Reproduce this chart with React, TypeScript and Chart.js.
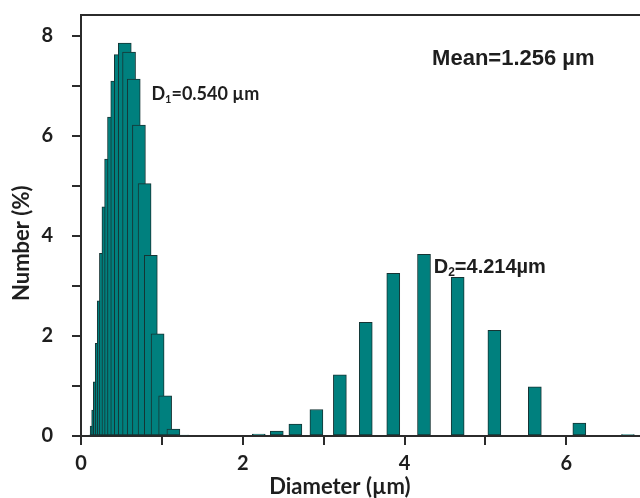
import React, { useEffect, useRef } from "react";
import { Chart, registerables } from "chart.js";

Chart.register(...registerables);

// Bin centres (µm) (log-spaced bins)
const diameters = [
  0.176, 0.193, 0.212, 0.233, 0.256, 0.281, 0.308, 0.339, 0.372, 0.408, 0.448,
  0.492, 0.541, 0.594, 0.652, 0.716, 0.786, 0.863, 0.947, 1.04, 1.142, 1.254,
  2.197, 2.42, 2.65, 2.91, 3.2, 3.52, 3.86, 4.24, 4.656, 5.11, 5.61, 6.16, 6.76,
];
// Number (%) for each bin
const numbers = [
  0.02, 0.2, 0.52, 1.08, 1.85, 2.7, 3.65, 4.58, 5.53, 6.37, 7.09,
  7.62, 7.85, 7.67, 7.13, 6.21, 5.04, 3.61, 2.04, 0.8, 0.14, 0.02,
  0.04, 0.1, 0.24, 0.53, 1.22, 2.27, 3.25, 3.63, 3.17, 2.11, 0.98, 0.26, 0.03,
];
const xTickLabels = ["0", "", "2", "", "4", "", "6"];
const yTickLabels = ["0", "", "2", "", "4", "", "6", "", "8"];
const xTitle = "Diameter (µm)";
const yTitle = "Number (%)";
const meanText = "Mean=1.256 µm";
const d1Text = { main: "D", sub: "1", rest: "=0.540 µm", x: 0.87, y: 6.82 };
const d2Text = { main: "D", sub: "2", rest: "=4.214µm", x: 4.36, y: 3.37 };
const meanPos = { x: 4.34, y: 7.53 };
const xTitlePos = 3.2; // centre of x-axis title, in µm
const yTitlePos = 3.85; // centre of y-axis title, in %

const TEAL = "#00807e";
const EDGE = "#163434";
const AXIS = "#2b2b2b";
const INK = "#1e1e1e";
const CAL = "Lato, 'Open Sans', sans-serif";
const ARIAL = "'Liberation Sans', Arial, sans-serif";

export default function App() {
  const ref = useRef<HTMLCanvasElement | null>(null);

  useEffect(() => {
    const canvas = ref.current;
    if (!canvas) return;

    const textPlugin = {
      id: "annot",
      afterDraw(chart: any) {
        const { ctx, chartArea, scales } = chart;
        ctx.save();
        // top frame line
        ctx.strokeStyle = AXIS;
        ctx.lineWidth = 2;
        ctx.beginPath();
        ctx.moveTo(chartArea.left - 1, chartArea.top);
        ctx.lineTo(chart.width, chartArea.top);
        ctx.stroke();

        ctx.fillStyle = INK;
        ctx.textBaseline = "middle";
        ctx.textAlign = "center";
        // axis titles
        ctx.font = `bold 22px ${CAL}`;
        ctx.fillText(xTitle, scales.x.getPixelForValue(xTitlePos), 487);
        ctx.save();
        ctx.translate(22, scales.y.getPixelForValue(yTitlePos));
        ctx.rotate(-Math.PI / 2);
        ctx.fillText(yTitle, 0, 0);
        ctx.restore();

        ctx.textAlign = "left";
        // Mean
        ctx.font = `bold 22px ${ARIAL}`;
        ctx.fillText(meanText, scales.x.getPixelForValue(meanPos.x), scales.y.getPixelForValue(meanPos.y));

        const drawSub = (t: any, size: number, fam: string) => {
          let x = scales.x.getPixelForValue(t.x);
          const y = scales.y.getPixelForValue(t.y);
          ctx.font = `bold ${size}px ${fam}`;
          ctx.fillText(t.main, x, y);
          x += ctx.measureText(t.main).width;
          ctx.font = `bold ${Math.round(size * 0.62)}px ${fam}`;
          ctx.fillText(t.sub, x, y + size * 0.28);
          x += ctx.measureText(t.sub).width;
          ctx.font = `bold ${size}px ${fam}`;
          ctx.fillText(t.rest, x, y);
        };
        drawSub(d1Text, 18, CAL);
        drawSub(d2Text, 20, ARIAL);
        ctx.restore();
      },
    };

    const chart = new Chart(canvas, {
      type: "bar",
      data: {
        datasets: [
          {
            data: diameters.map((d, i) => ({ x: d, y: numbers[i] })),
            backgroundColor: TEAL,
            borderColor: EDGE,
            borderWidth: 1,
            borderSkipped: false,
            barThickness: 13,
          },
        ],
      },
      options: {
        responsive: false,
        animation: false,
        layout: { padding: { top: 15, right: 0, left: 0, bottom: 0 } },
        plugins: { legend: { display: false }, tooltip: { enabled: false } },
        scales: {
          x: {
            type: "linear",
            min: 0,
            max: 6.91,
            offset: false,
            border: { color: AXIS, width: 2 },
            grid: { display: true, drawOnChartArea: false, drawTicks: true, tickLength: 9, color: AXIS, lineWidth: 2, offset: false },
            ticks: {
              stepSize: 1,
              autoSkip: false,
              includeBounds: false,
              maxRotation: 0,
              padding: 7,
              color: INK,
              font: { family: CAL, size: 20, weight: "bold" },
              callback: (v: any) => xTickLabels[Math.round(v)] ?? "",
            },
            title: { display: false, text: xTitle },
            afterFit: (s: any) => {
              s.height = 62;
              s.paddingLeft = 0;
              s.paddingRight = 0;
            },
          },
          y: {
            min: 0,
            max: 8.41,
            border: { color: AXIS, width: 2 },
            grid: { display: true, drawOnChartArea: false, drawTicks: true, tickLength: 9, color: AXIS, lineWidth: 2 },
            ticks: {
              stepSize: 1,
              autoSkip: false,
              includeBounds: false,
              padding: 19,
              color: INK,
              font: { family: CAL, size: 20, weight: "bold" },
              callback: (v: any) => yTickLabels[Math.round(v)] ?? "",
            },
            title: { display: false, text: yTitle },
            afterFit: (s: any) => {
              s.width = 81;
              s.paddingTop = 0;
              s.paddingBottom = 0;
            },
          },
        },
      },
      plugins: [textPlugin],
    } as any);

    return () => chart.destroy();
  }, []);

  return (
    <div style={{ position: "absolute", left: 0, top: 0, width: 640, height: 498, background: "#fff" }}>
      <canvas ref={ref} width={640} height={498} style={{ display: "block", width: 640, height: 498 }} />
    </div>
  );
}
